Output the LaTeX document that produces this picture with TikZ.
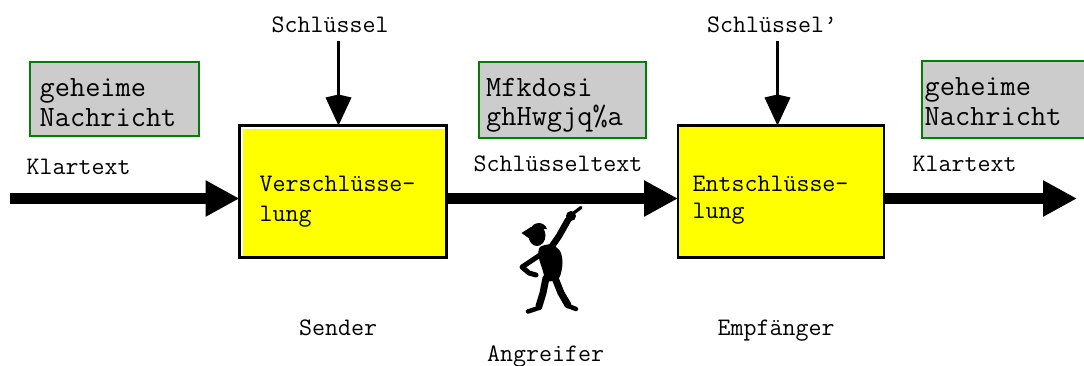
\documentclass[tikz,border=0pt]{standalone}
\usepackage{fontspec}
\usetikzlibrary{arrows.meta}
\definecolor{boxgray}{RGB}{204,204,204}
\definecolor{boxgreen}{RGB}{0,128,0}
\definecolor{boxyellow}{RGB}{255,255,0}
\begin{document}
\begin{tikzpicture}[x=1pt,y=-1pt,
  lbl/.style={font=\ttfamily\fontsize{25.2}{28}\selectfont, inner sep=0pt, anchor=base west},
  msg/.style={font=\ttfamily\fontsize{29.5}{32}\selectfont, inner sep=0pt, anchor=base west},
  msgbox/.style={draw=boxgreen, line width=2.2pt, fill=boxgray, inner sep=0pt, outer sep=0pt},
  cryptbox/.style={draw=black, line width=2.4pt, fill=boxyellow, inner sep=0pt, outer sep=0pt,
                   minimum height=132pt},
  flow/.style={line width=10.5pt, -{Triangle[length=34pt,width=34pt]}},
  keyarrow/.style={line width=3.4pt, -{Kite[length=31pt,width=26pt,inset=3pt]}},
  figure/.style={line join=round, line cap=round},
]
\clip (0,0) rectangle (1084,365);
\fill[white] (0,0) rectangle (1084,365);

% --- message boxes ---
\node[msgbox, minimum width=168.5pt, minimum height=74pt] (plain1) at (114.6,99.1) {};
\node[msg] (plain1a) at (39.5,96.7) {geheime};
\node[msg] (plain1b) at (39.5,126) {Nachricht};

\node[msgbox, minimum width=166.8pt, minimum height=76.5pt] (cipher) at (562.5,100) {};
\node[msg] (ciphera) at (486,96) {Mfkdosi};
\node[msg] (cipherb) at (486,125) {ghHwgjq\%a};

\node[msgbox, minimum width=200pt, minimum height=77pt] (plain2) at (1022.1,99.5) {};
\node[msg] (plain2a) at (924.5,95.5) {geheime};
\node[msg] (plain2b) at (924.5,125) {Nachricht};

% --- encryption / decryption boxes ---
\node[cryptbox, fill=white, minimum width=207pt] (enc) at (343,191.5) {};
\fill[boxyellow] ([xshift=3.8pt,yshift=-3.8pt]enc.north west) rectangle (enc.south east);
\draw[line width=2.4pt] (enc.north west) rectangle (enc.south east);
\node[lbl] (enca) at (259.5,191) {Verschlüsse-};
\node[lbl] (encb) at (259.5,221) {lung};

\node[cryptbox, minimum width=206pt] (dec) at (781,191.5) {};
\node[lbl] (deca) at (692.5,191) {Entschlüsse-};
\node[lbl] (decb) at (692.5,218) {lung};

% --- labels ---
\node[lbl] (key1) at (271.5,32) {Schlüssel};
\node[lbl] (key2) at (707,32) {Schlüssel’};
\node[lbl] (klar1) at (26.5,174) {Klartext};
\node[lbl] (ctext) at (473.5,171) {Schlüsseltext};
\node[lbl] (klar2) at (912.5,171) {Klartext};
\node[lbl] (sender) at (299,335) {Sender};
\node[lbl] (attacker) at (487,361) {Angreifer};
\node[lbl] (receiver) at (717.5,335) {Empfänger};

% --- data flow ---
\coordinate (src) at (10,198.5);
\coordinate (dst) at (1077,198.5);
\draw[flow] (src) -- (src -| enc.west);
\draw[flow] (src -| enc.east) -- (src -| dec.west);
\draw[flow] (src -| dec.east) -- (dst);

% --- keys ---
\coordinate (k1) at (338.5,41);
\coordinate (k2) at (777.5,41);
\draw[keyarrow] (k1) -- (k1 |- enc.north);
\draw[keyarrow] (k2) -- (k2 |- dec.north);

% --- eavesdropper silhouette ---
\begin{scope}[figure]
  % head with cap
  \fill (537,235.5) ellipse (8.5 and 10.5);
  \fill (531,227) -- (521.5,233) -- (530,239) -- cycle;
  \fill (530,229.5) .. controls (533,221.5) and (544,220.5) .. (547,229) -- cycle;
  % torso
  \fill plot[smooth cycle] coordinates {(540,247) (551,244.5) (560,251) (562.5,263) (559,278) (547,281) (542,268) (538.5,256)};
  % pointing arm and hand
  \draw[line width=6.5pt] (550,249) -- (559,236) -- (568,220);
  \fill (571,216) circle (5);
  \draw[line width=3.2pt] (571,215) -- (581,207.5);
  % arm on the hip
  \draw[line width=5pt] (543,253) -- (531,261) -- (522,267) -- (529,273) -- (536,275);
  % legs and feet
  \draw[line width=7pt] (546,278) -- (543,293) -- (539,306);
  \draw[line width=4.5pt] (540,307.5) -- (528,311.5);
  \draw[line width=7pt] (555,278) -- (561,293) -- (568,305);
  \draw[line width=4.5pt] (567,305.5) -- (576,309);
\end{scope}
\end{tikzpicture}
\end{document}
